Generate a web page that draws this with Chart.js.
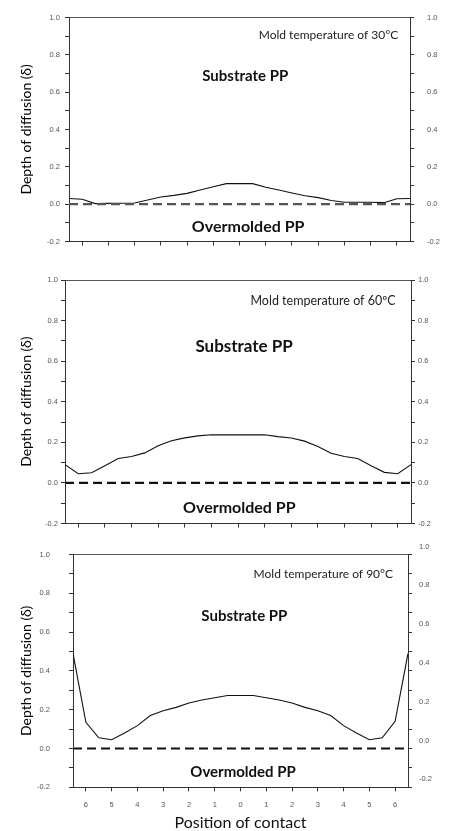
<!DOCTYPE html>
<html><head><meta charset="utf-8">
<script src="https://cdn.jsdelivr.net/npm/chart.js@4.4.0/dist/chart.umd.min.js"></script>
<style>
html,body{margin:0;padding:0;background:#fff;width:449px;height:831px;overflow:hidden}
.p{position:absolute;left:0;width:449px;background:#fff;overflow:hidden}
canvas{display:block}
</style></head><body>
<div class="p" style="top:0;height:259px"><canvas id="c1" width="449" height="259"></canvas></div>
<div class="p" style="top:259px;height:272px"><canvas id="c2" width="449" height="272"></canvas></div>
<div class="p" style="top:531px;height:300px"><canvas id="c3" width="449" height="300"></canvas></div>
<script>
// ---- data ----
const positions = [-6.5,-6,-5.5,-5,-4.5,-4,-3.5,-3,-2.5,-2,-1.5,-1,-0.5,0,0.5,1,1.5,2,2.5,3,3.5,4,4.5,5,5.5,6,6.5];
const depth30 = [0.030,0.026,0.003,0.004,0.005,0.006,0.022,0.038,0.047,0.058,0.076,0.093,0.110,0.110,0.110,0.091,0.076,0.060,0.045,0.035,0.020,0.010,0.010,0.010,0.008,0.029,0.030];
const depth60 = [0.090,0.045,0.050,0.085,0.120,0.130,0.148,0.183,0.208,0.222,0.232,0.237,0.237,0.237,0.237,0.237,0.228,0.221,0.206,0.180,0.146,0.130,0.120,0.085,0.052,0.045,0.090];
const depth90 = [0.490,0.135,0.055,0.045,0.080,0.118,0.170,0.195,0.212,0.235,0.250,0.262,0.273,0.273,0.273,0.262,0.250,0.235,0.212,0.195,0.170,0.118,0.080,0.045,0.055,0.140,0.490];
const xTickValues = [-6,-5,-4,-3,-2,-1,0,1,2,3,4,5,6];
const xTickLabels = ['6','5','4','3','2','1','0','1','2','3','4','5','6'];
const yTickValues = [-0.2,-0.1,0,0.1,0.2,0.3,0.4,0.5,0.6,0.7,0.8,0.9,1.0];
const yTickLabels = ['-0.2','','0.0','','0.2','','0.4','','0.6','','0.8','','1.0'];
const moldLabels = ['Mold temperature of 30°C','Mold temperature of 60ºC','Mold temperature of 90°C'];
const upperLabel = 'Substrate PP';
const lowerLabel = 'Overmolded PP';
const yTitle = 'Depth of diffusion (δ)';
const xTitle = 'Position of contact';
const interfaceLevel = 0;

Chart.defaults.font.family = 'Lato';
Chart.defaults.animation = false;

const textPlugin = {
  id: 'panelText',
  afterDatasetsDraw(chart, args, opts) {
    const {ctx} = chart; const x = chart.scales.x, y = chart.scales.y;
    (opts.items || []).forEach(it => {
      ctx.save();
      ctx.font = it.font; ctx.fillStyle = it.color || '#111';
      ctx.textAlign = it.align || 'center'; ctx.textBaseline = 'middle';
      ctx.fillText(it.text, x.getPixelForValue(it.x), y.getPixelForValue(it.y));
      ctx.restore();
    });
  }
};

const tickFont = {family: 'Liberation Sans', size: 7.5};
const axisColor = '#333';

function makePanel(id, values, g) {
  const H = g.H;
  const yCommon = (pos, width, pad, labelOffset) => ({
    type: 'linear', position: pos, min: -0.2, max: 1.0,
    afterBuildTicks: s => { s.ticks = yTickValues.map(v => ({value: v})); },
    afterFit: s => { s.width = width; },
    ticks: {callback: (v, i) => yTickLabels[i], font: tickFont, color: '#555', padding: pad, autoSkip: false, labelOffset: labelOffset || 0},
    grid: {display: true, drawOnChartArea: false, drawTicks: true, tickLength: 4, color: axisColor},
    border: {display: true, color: axisColor, width: 1}
  });
  const yLeft = yCommon('left', g.left, g.lpad, 0);
  yLeft.title = {display: true, text: yTitle, font: {family: 'Lato', size: 14}, color: '#000', padding: {top: g.tpad, bottom: 0}};
  const yRight = yCommon('right', 449 - g.right, g.rpad, g.rOff);
  return new Chart(document.getElementById(id), {
    type: 'line',
    data: {datasets: [
      {data: [{x: -6.5, y: interfaceLevel}, {x: 6.5, y: interfaceLevel}], borderColor: g.dashColor, borderWidth: 2.2, borderDash: [9, 5], pointRadius: 0, yAxisID: 'y'},
      {data: positions.map((p, i) => ({x: p, y: values[i]})), borderColor: '#111', borderWidth: 1.1, pointRadius: 0, tension: 0, yAxisID: 'y'}
    ]},
    options: {
      responsive: false, devicePixelRatio: 1, animation: false,
      layout: {padding: {top: g.top, left: 0, right: 0, bottom: 0}},
      plugins: {legend: {display: false}, tooltip: {enabled: false},
        panelText: {items: [
          {text: g.mold, x: g.moldX, y: g.moldY, font: g.moldFont, align: 'right', color: '#222'},
          {text: upperLabel, x: g.upX, y: g.upY, font: g.upFont},
          {text: lowerLabel, x: g.loX, y: g.loY, font: g.loFont}
        ]}},
      scales: {
        x: {type: 'linear', position: 'bottom', min: -6.5, max: 6.5,
          afterBuildTicks: s => { s.ticks = xTickValues.map(v => ({value: v})); },
          afterFit: s => { s.height = H - g.bottom; },
          ticks: {display: g.showX, callback: (v, i) => xTickLabels[i], font: tickFont, color: '#555', padding: 9, autoSkip: false, maxRotation: 0},
          grid: {display: true, drawOnChartArea: false, drawTicks: true, tickLength: 4, color: axisColor},
          border: {display: true, color: axisColor, width: 1},
          title: {display: g.showX, text: xTitle, font: {family: 'Lato', size: 16, lineHeight: 1}, color: '#111', padding: {top: 0, bottom: 0}}
        },
        xTop: {type: 'linear', position: 'top', min: -6.5, max: 6.5,
          afterFit: s => { s.height = 0; },
          ticks: {display: false}, grid: {display: false},
          border: {display: true, color: '#555', width: 1}
        },
        y: yLeft,
        y2: yRight
      }
    },
    plugins: [textPlugin]
  });
}

makePanel('c1', depth30, {H: 259, left: 69, right: 410, top: 12, bottom: 255, lpad: 5, rpad: 13, rOff: 0, tpad: 18,
  dashColor: '#555', showX: false, mold: moldLabels[0], moldX: 6.05, moldY: 0.905, moldFont: '12px Lato',
  upX: 0.22, upY: 0.684, upFont: 'bold 15px Lato', loX: 0.33, loY: -0.122, loFont: 'bold 16px Lato'});
makePanel('c2', depth60, {H: 272, left: 65, right: 411, top: 21, bottom: 268.5, lpad: 3, rpad: 3, rOff: 0, tpad: 18,
  dashColor: '#111', showX: false, mold: moldLabels[1], moldX: 5.92, moldY: 0.895, moldFont: '12.5px Lato',
  upX: 0.23, upY: 0.672, upFont: 'bold 17px Lato', loX: 0.05, loY: -0.122, loFont: 'bold 16px Lato'});
makePanel('c3', depth90, {H: 300, left: 73, right: 408, top: 15.7, bottom: 256.3, lpad: 19, rpad: 7, rOff: -8, tpad: 18,
  dashColor: '#111', showX: true, mold: moldLabels[2], moldX: 5.92, moldY: 0.9, moldFont: '12px Lato',
  upX: 0.15, upY: 0.68, upFont: 'bold 15px Lato', loX: 0.1, loY: -0.12, loFont: 'bold 15px Lato'});
</script>
</body></html>
